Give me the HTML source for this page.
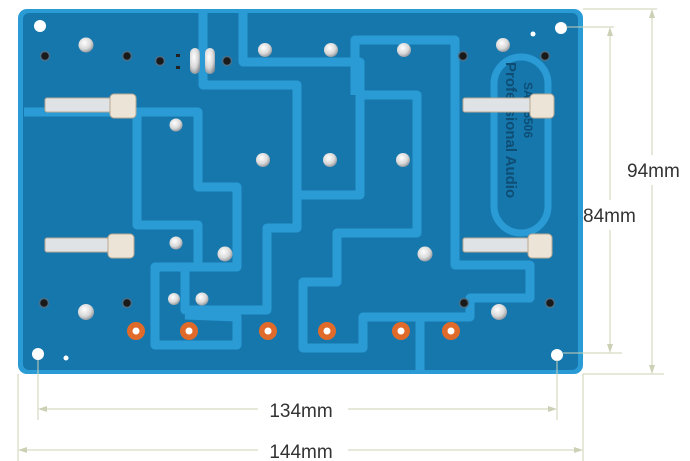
<!DOCTYPE html>
<html><head><meta charset="utf-8"><style>
html,body{margin:0;padding:0;background:#fff;}
svg{display:block;}
text{font-family:"Liberation Sans",sans-serif;}
</style></head><body>
<svg width="690" height="461" viewBox="0 0 690 461" xmlns="http://www.w3.org/2000/svg">
<defs>
<radialGradient id="sil" cx="40%" cy="35%" r="70%"><stop offset="0" stop-color="#ffffff"/><stop offset="0.6" stop-color="#d8d8d8"/><stop offset="1" stop-color="#8a8f96"/></radialGradient>
</defs>
<rect x="18" y="9" width="565" height="365" rx="9" fill="#2a9bd4"/>
<rect x="23" y="13" width="555" height="357" rx="6" fill="#1677ad"/>
<g fill="none" stroke="#2a9bd4" stroke-width="9" stroke-linejoin="round">
<polyline points="203,13 203,85 297,85 297,228 267,228 267,310 185,310 185,270"/>
<polyline points="24,112 198,112 198,187 237,187 237,267 197,267"/>
<polyline points="137,112 137,225 198,225 198,267 155,267 155,345 237,345 237,317 185,315"/>
<polyline points="243,13 243,62 360,62 360,195 297,195"/>
<polyline points="360,95 417,95 417,233 337,233 337,282 303,282 303,348 363,348 363,317 420,317 420,373"/>
<polyline points="355,95 355,40 455,40 455,265 530,265 530,298 470,298 470,317 420,317"/>
</g>
<rect x="494" y="57" width="54" height="176" rx="27" fill="#1677ad" stroke="#2a9bd4" stroke-width="7"/>
<g transform="translate(506,62) rotate(90)" fill="#0e4d74" font-weight="bold">
<text x="0" y="0" font-size="15">Professional  Audio</text>
<text x="20" y="-18" font-size="12">SAH-5506</text>
</g>
<g fill="#fff"><circle cx="40" cy="26" r="6"/><circle cx="561" cy="28" r="6"/><circle cx="38" cy="354" r="6"/><circle cx="557" cy="355" r="6"/><circle cx="533" cy="34" r="2.5"/><circle cx="66" cy="358" r="2.5"/></g>
<g fill="url(#sil)">
<circle cx="86" cy="45" r="7.5"/><circle cx="265" cy="50" r="7"/><circle cx="331" cy="50" r="7"/><circle cx="404" cy="50" r="7"/><circle cx="503" cy="45" r="7"/>
<circle cx="176" cy="125" r="6.5"/><circle cx="263" cy="160" r="7"/><circle cx="330" cy="160" r="7"/><circle cx="403" cy="160" r="7"/>
<circle cx="176" cy="243" r="6.5"/><circle cx="225" cy="254" r="7.5"/><circle cx="425" cy="254" r="7.5"/>
<circle cx="174" cy="299" r="6"/><circle cx="202" cy="299" r="6.5"/><circle cx="86" cy="312" r="8"/><circle cx="499" cy="312" r="8"/>
<rect x="190" y="48" width="10" height="26" rx="5"/><rect x="205" y="48" width="10" height="26" rx="5"/>
</g>
<g fill="#1a1a1a" stroke="#4a6f88" stroke-width="1.5">
<circle cx="45" cy="56" r="4.5"/><circle cx="127" cy="56" r="4.5"/><circle cx="160" cy="61" r="4.5"/><circle cx="227" cy="61" r="4.5"/>
<circle cx="463" cy="56" r="4.5"/><circle cx="545" cy="56" r="4.5"/>
<circle cx="44" cy="303" r="4.5"/><circle cx="127" cy="303" r="4.5"/><circle cx="464" cy="303" r="4.5"/><circle cx="550" cy="303" r="4.5"/>
</g>
<g fill="#222"><rect x="176" y="54" width="4" height="3"/><rect x="176" y="66" width="4" height="3"/></g>
<g fill="#e06a2a"><circle cx="136" cy="331" r="9"/><circle cx="189" cy="331" r="9"/><circle cx="268" cy="331" r="9"/><circle cx="327" cy="331" r="9"/><circle cx="401" cy="331" r="9"/><circle cx="451" cy="331" r="9"/></g>
<g fill="#fff"><circle cx="136" cy="331" r="3.5"/><circle cx="189" cy="331" r="3.5"/><circle cx="268" cy="331" r="3.5"/><circle cx="327" cy="331" r="3.5"/><circle cx="401" cy="331" r="3.5"/><circle cx="451" cy="331" r="3.5"/></g>
<g fill="#dfe3e6" stroke="#b9a892" stroke-width="1">
<rect x="45" y="98" width="75" height="14" rx="2"/><rect x="110" y="94" width="26" height="24" rx="4" fill="#ece4d6"/>
<rect x="45" y="238" width="75" height="14" rx="2"/><rect x="108" y="234" width="26" height="24" rx="4" fill="#ece4d6"/>
<rect x="463" y="98" width="75" height="14" rx="2"/><rect x="530" y="94" width="24" height="24" rx="4" fill="#ece4d6"/>
<rect x="463" y="238" width="75" height="14" rx="2"/><rect x="528" y="234" width="24" height="24" rx="4" fill="#ece4d6"/>
</g>
<g stroke="#ccd1b6" stroke-width="1" fill="none">
<line x1="583" y1="9" x2="657" y2="9"/><line x1="566" y1="27" x2="614" y2="27"/>
<line x1="563" y1="353" x2="622" y2="353"/><line x1="583" y1="374" x2="664" y2="374"/>
<line x1="610" y1="32" x2="610" y2="200"/><line x1="610" y1="230" x2="610" y2="349"/>
<line x1="652" y1="14" x2="652" y2="155"/><line x1="652" y1="185" x2="652" y2="369"/>
<line x1="38" y1="360" x2="38" y2="420"/><line x1="557" y1="360" x2="557" y2="420"/>
<line x1="18" y1="374" x2="18" y2="461"/><line x1="583" y1="374" x2="583" y2="461"/>
<line x1="42" y1="409" x2="258" y2="409"/><line x1="348" y1="409" x2="553" y2="409"/>
<line x1="22" y1="450" x2="258" y2="450"/><line x1="348" y1="450" x2="579" y2="450"/>
</g>
<g fill="#ccd1b6">
<polygon points="610,27 607,36 613,36"/><polygon points="610,353 607,344 613,344"/>
<polygon points="652,9 649,18 655,18"/><polygon points="652,374 649,365 655,365"/>
<polygon points="38,409 47,406 47,412"/><polygon points="557,409 548,406 548,412"/>
<polygon points="18,450 27,447 27,453"/><polygon points="583,450 574,447 574,453"/>
</g>
<g fill="#333" font-size="19">
<text x="627" y="177">94mm</text>
<text x="583" y="222">84mm</text>
<text x="301" y="417" text-anchor="middle">134mm</text>
<text x="301" y="458" text-anchor="middle">144mm</text>
</g>
</svg>
</body></html>
